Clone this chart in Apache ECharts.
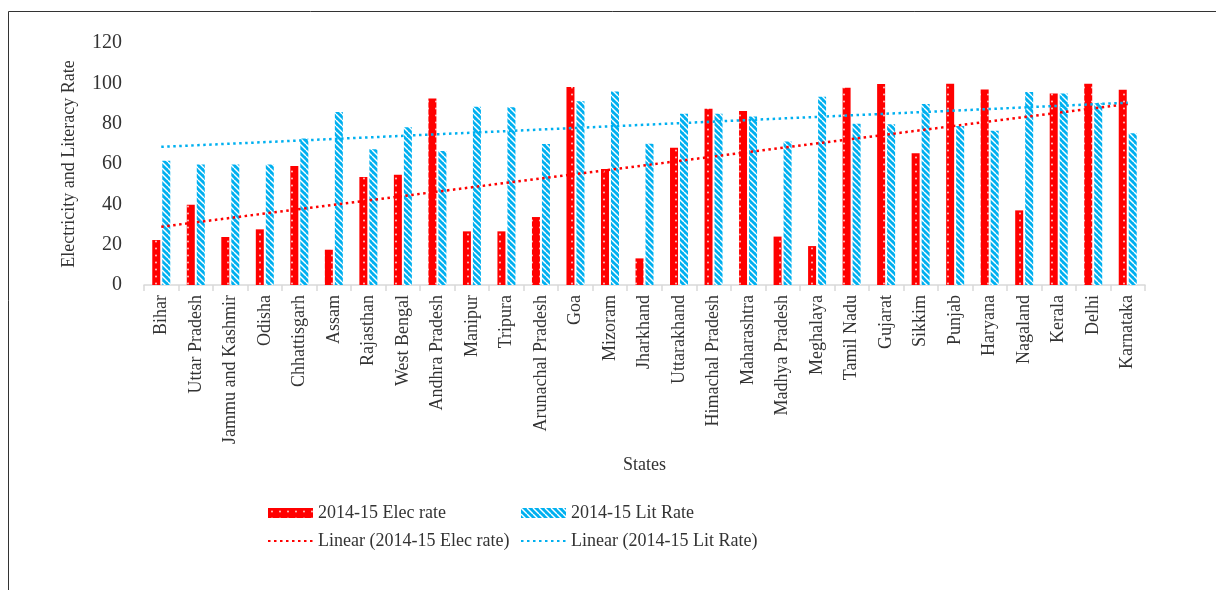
<!DOCTYPE html>
<html>
<head>
<meta charset="utf-8">
<script src="https://cdn.jsdelivr.net/npm/echarts@6/dist/echarts.min.js"></script>
<style>
html,body{margin:0;padding:0;background:#fff;}
#chart{width:1216px;height:590px;}
</style>
</head>
<body>
<div id="chart"></div>
<script>
const states = ['Bihar','Uttar Pradesh','Jammu and Kashmir','Odisha','Chhattisgarh','Assam','Rajasthan','West Bengal','Andhra Pradesh','Manipur','Tripura','Arunachal Pradesh','Goa','Mizoram','Jharkhand','Uttarakhand','Himachal Pradesh','Maharashtra','Madhya Pradesh','Meghalaya','Tamil Nadu','Gujarat','Sikkim','Punjab','Haryana','Nagaland','Kerala','Delhi','Karnataka'];
const elecRate = [22.3,39.8,23.8,27.6,59.0,17.5,53.5,54.7,92.5,26.6,26.6,33.7,98.2,57.5,13.2,68.1,87.4,86.3,24.0,19.3,97.8,99.7,65.3,99.8,97.0,37.0,95.0,99.8,96.8];
const litRate = [61.6,59.8,59.8,59.8,72.7,85.8,67.3,78.2,66.4,88.4,88.1,69.9,91.1,96.0,70.1,84.9,84.9,83.6,71.1,93.4,80.0,79.7,89.7,78.8,76.5,95.7,95.0,90.1,75.2];
// Trend line end values (first and last state)
const elecTrendEnds = [28.9, 89.8];
const litTrendEnds = [68.5, 90.4];
const yTicks = [0,20,40,60,80,100,120];

const RED = '#FF0000', BLUE = '#00B0F0';
const FONT = "'Liberation Serif','Times New Roman',serif";

function dotPattern(){
  const c = document.createElement('canvas'); c.width = 8; c.height = 7;
  const g = c.getContext('2d');
  g.fillStyle = RED; g.fillRect(0,0,8,7);
  g.fillStyle = 'rgba(255,255,255,0.85)';
  g.beginPath(); g.arc(4,3.5,0.9,0,Math.PI*2); g.fill();
  return {image:c, repeat:'repeat'};
}
function stripePattern(){
  const c = document.createElement('canvas'); c.width = 6; c.height = 6;
  const g = c.getContext('2d');
  g.fillStyle = BLUE; g.fillRect(0,0,6,6);
  g.strokeStyle = '#ffffff'; g.lineWidth = 1.4;
  for (const k of [-6,0,6]) { g.beginPath(); g.moveTo(k,0); g.lineTo(k+6,6); g.stroke(); }
  return {image:c, repeat:'repeat'};
}

const chart = echarts.init(document.getElementById('chart'));
const last = states.length - 1;
const hideSym = {opacity:0};
chart.setOption({
  animation:false,
  textStyle:{fontFamily:FONT},
  grid:{left:144, right:71, top:43, bottom:305, containLabel:false},
  graphic:[
    {type:'polyline', shape:{points:[[8.5,590],[8.5,11.5],[1216,11.5]]}, style:{stroke:'#333', lineWidth:1, fill:null}, silent:true}
  ],
  legend:[
    {left:262, top:499, orient:'vertical', itemWidth:45, itemHeight:10, itemGap:10,
     textStyle:{fontFamily:FONT, fontSize:18, color:'#333'},
     data:[{name:'2014-15 Elec rate', icon:'rect'},{name:'Linear (2014-15 Elec rate)', itemStyle:hideSym}]},
    {left:515, top:499, orient:'vertical', itemWidth:45, itemHeight:10, itemGap:10,
     textStyle:{fontFamily:FONT, fontSize:18, color:'#333'},
     data:[{name:'2014-15 Lit Rate', icon:'rect'},{name:'Linear (2014-15 Lit Rate)', itemStyle:hideSym}]}
  ],
  xAxis:{
    type:'category', data:states,
    name:'States', nameLocation:'middle', nameGap:171,
    nameTextStyle:{fontFamily:FONT, fontSize:18, color:'#333'},
    axisLine:{lineStyle:{color:'#D9D9D9', width:1.5}},
    axisTick:{show:true, length:6, lineStyle:{color:'#D9D9D9', width:1.5}},
    axisLabel:{rotate:90, interval:0, fontFamily:FONT, fontSize:18, color:'#333', margin:10}
  },
  yAxis:{
    type:'value', min:yTicks[0], max:yTicks[yTicks.length-1], interval:20,
    name:'Electricity and Literacy Rate', nameLocation:'middle', nameGap:66, nameRotate:90,
    nameTextStyle:{fontFamily:FONT, fontSize:18, color:'#333'},
    axisLine:{show:false}, axisTick:{show:false}, splitLine:{show:false},
    axisLabel:{fontFamily:FONT, fontSize:20, color:'#333', margin:22}
  },
  series:[
    {name:'2014-15 Elec rate', type:'bar', data:elecRate, barWidth:8, barGap:'25%',
     itemStyle:{color:dotPattern()}},
    {name:'2014-15 Lit Rate', type:'bar', data:litRate, barWidth:8, barGap:'25%',
     itemStyle:{color:stripePattern()}},
    {name:'Linear (2014-15 Elec rate)', type:'line', symbol:'none',
     data:[[states[0], elecTrendEnds[0]],[states[last], elecTrendEnds[1]]],
     itemStyle:{color:RED}, lineStyle:{color:RED, width:2.5, type:[2.5,3.5]}, z:5},
    {name:'Linear (2014-15 Lit Rate)', type:'line', symbol:'none',
     data:[[states[0], litTrendEnds[0]],[states[last], litTrendEnds[1]]],
     itemStyle:{color:BLUE}, lineStyle:{color:BLUE, width:2.5, type:[2.5,3.5]}, z:5}
  ]
});
</script>
</body>
</html>
